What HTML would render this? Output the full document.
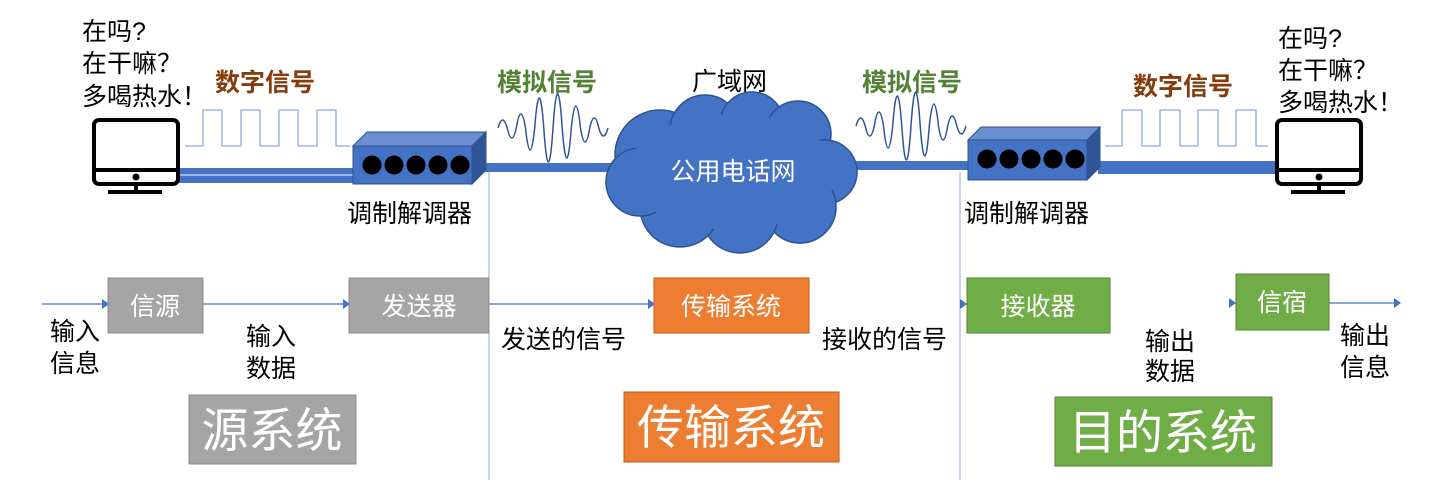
<!DOCTYPE html>
<html><head><meta charset="utf-8"><style>
html,body{margin:0;padding:0;background:#fff;}
svg{display:block;font-family:"Liberation Sans","Noto Sans CJK SC",sans-serif;}
</style></head><body>
<svg width="1442" height="480" viewBox="0 0 1442 480" xmlns="http://www.w3.org/2000/svg">
<defs>
<path id="aw" d="M0 128 Q4.6 112 9.2 128 Q13.8 148 18.3 128 Q22.9 100 27.5 128 Q32.1 172 36.7 128 Q41.3 68 45.8 128 Q50.4 196 55 128 Q59.6 60 64.2 128 Q68.8 188 73.3 128 Q77.9 84 82.5 128 Q87.1 156 91.7 128 Q96.3 108 100.8 128 Q105.4 144 110 128" fill="none" stroke="#2F5597" stroke-width="1.5"/>
</defs>
<line x1="489" y1="172" x2="489" y2="480" stroke="#8FAADC" stroke-width="1"/>
<line x1="960" y1="172" x2="960" y2="480" stroke="#8FAADC" stroke-width="1"/>

<g font-size="25" fill="#000">
<text x="82" y="40">在吗?</text>
<text x="82" y="72">在干嘛？</text>
<text x="82" y="105">多喝热水！</text>
<text x="1278" y="47">在吗?</text>
<text x="1278" y="79">在干嘛？</text>
<text x="1278" y="111">多喝热水！</text>
<text x="692" y="90">广域网</text>
<text x="347" y="222">调制解调器</text>
<text x="964" y="222">调制解调器</text>
</g>
<g font-size="25" font-weight="bold">
<text x="215" y="91" fill="#843C0C">数字信号</text>
<text x="1133" y="95" fill="#843C0C">数字信号</text>
<text x="497" y="91" fill="#548235">模拟信号</text>
<text x="862" y="91" fill="#548235">模拟信号</text>
</g>

<polyline points="185,146 203,146 203,110 222,110 222,146 241,146 241,110 260,110 260,146 279,146 279,110 298,110 298,146 317,146 317,110 336,110 336,146 350,146" fill="none" stroke="#8FAADC" stroke-width="1.3"/>
<polyline points="1105,146 1122,146 1122,110 1142,110 1142,146 1160,146 1160,110 1180,110 1180,146 1198,146 1198,110 1218,110 1218,146 1236,146 1236,110 1256,110 1256,146 1268,146" fill="none" stroke="#8FAADC" stroke-width="1.3"/>

<use href="#aw" x="498" y="0"/>
<use href="#aw" x="856" y="-2"/>

<rect x="178" y="168" width="176" height="15" fill="#4472C4"/>
<line x1="178" y1="175" x2="354" y2="175" stroke="#fff" stroke-width="1"/>
<rect x="484" y="163" width="130" height="9" fill="#4472C4"/>
<rect x="850" y="161" width="120" height="9" fill="#4472C4"/>
<rect x="1098" y="161" width="180" height="13" fill="#4472C4"/>

<g fill="#4472C4" stroke="#2F528F" stroke-width="1.5">
<circle cx="660" cy="155" r="45"/>
<circle cx="705" cy="130" r="35"/>
<circle cx="752" cy="124" r="32"/>
<circle cx="798" cy="134" r="33"/>
<circle cx="825" cy="172" r="32"/>
<circle cx="800" cy="207" r="36"/>
<circle cx="740" cy="215" r="38"/>
<circle cx="680" cy="207" r="40"/>
<circle cx="640" cy="182" r="34"/>
</g>
<ellipse cx="732" cy="172" rx="105" ry="58" fill="#4472C4"/>
<text x="733" y="180" font-size="25" fill="#fff" text-anchor="middle">公用电话网</text>

<polygon points="353,146 367,132 486,132 472,146" fill="#6A8FD0" stroke="#2F528F"/>
<polygon points="472,146 486,132 486,170 472,184" fill="#2F5597" stroke="#2F528F"/>
<rect x="353" y="146" width="119" height="38" fill="#4472C4" stroke="#2F528F"/>
<g fill="#000"><circle cx="372" cy="165" r="9.5"/><circle cx="394" cy="165" r="9.5"/><circle cx="416" cy="165" r="9.5"/><circle cx="438" cy="165" r="9.5"/><circle cx="460" cy="165" r="9.5"/></g>

<polygon points="968,140 981,127 1100,127 1087,140" fill="#6A8FD0" stroke="#2F528F"/>
<polygon points="1087,140 1100,127 1100,167 1087,180" fill="#2F5597" stroke="#2F528F"/>
<rect x="968" y="140" width="119" height="40" fill="#4472C4" stroke="#2F528F"/>
<g fill="#000"><circle cx="987" cy="159" r="9.5"/><circle cx="1009" cy="159" r="9.5"/><circle cx="1031" cy="159" r="9.5"/><circle cx="1053" cy="159" r="9.5"/><circle cx="1075" cy="159" r="9.5"/></g>

<g fill="none" stroke="#000" stroke-width="4">
<rect x="94" y="120" width="84" height="64" rx="5"/>
<line x1="94" y1="170" x2="178" y2="170"/>
<line x1="136" y1="184" x2="136" y2="191"/>
<line x1="108" y1="192" x2="162" y2="192"/>
<rect x="1277" y="120" width="84" height="64" rx="5"/>
<line x1="1277" y1="170" x2="1361" y2="170"/>
<line x1="1319" y1="184" x2="1319" y2="191"/>
<line x1="1291" y1="192" x2="1345" y2="192"/>
</g>
<circle cx="136" cy="177" r="3.5"/>
<circle cx="1319" cy="177" r="3.5"/>

<g stroke="#4472C4" stroke-width="1.2">
<line x1="42" y1="304" x2="103" y2="304"/>
<line x1="203" y1="304" x2="344" y2="304"/>
<line x1="489" y1="304" x2="649" y2="304"/>
<line x1="1329" y1="303" x2="1395" y2="303"/>
</g>
<g fill="#4472C4">
<polygon points="102,299 109,304 102,309"/>
<polygon points="343,299 350,304 343,309"/>
<polygon points="648,299 655,304 648,309"/>
<polygon points="960,299 967,304 960,309"/>
<polygon points="1229,298 1236,303 1229,308"/>
<polygon points="1394,298 1401,303 1394,308"/>
</g>

<rect x="108" y="278" width="95" height="55" fill="#A5A5A5" stroke="#8c8c8c"/>
<rect x="349" y="278" width="140" height="55" fill="#A5A5A5" stroke="#8c8c8c"/>
<rect x="654" y="278" width="155" height="55" fill="#ED7D31" stroke="#C55A11"/>
<rect x="967" y="278" width="143" height="55" fill="#70AD47" stroke="#548235"/>
<rect x="1236" y="274" width="93" height="56" fill="#70AD47" stroke="#548235"/>
<g font-size="25" fill="#fff" text-anchor="middle">
<text x="155" y="315">信源</text>
<text x="419" y="315">发送器</text>
<text x="731" y="315">传输系统</text>
<text x="1038" y="315">接收器</text>
<text x="1282" y="311">信宿</text>
</g>

<rect x="189" y="395" width="167" height="69" fill="#A5A5A5" stroke="#8c8c8c"/>
<rect x="624" y="392" width="215" height="70" fill="#ED7D31" stroke="#C55A11"/>
<rect x="1055" y="397" width="217" height="69" fill="#70AD47" stroke="#548235"/>
<g font-size="47" fill="#fff" text-anchor="middle">
<text x="272" y="447">源系统</text>
<text x="731" y="444">传输系统</text>
<text x="1163" y="449">目的系统</text>
</g>

<g font-size="25" fill="#000">
<text x="50" y="340">输入</text>
<text x="50" y="372">信息</text>
<text x="246" y="345">输入</text>
<text x="246" y="377">数据</text>
<text x="501" y="348">发送的信号</text>
<text x="822" y="348">接收的信号</text>
<text x="1145" y="350">输出</text>
<text x="1145" y="380">数据</text>
<text x="1340" y="344">输出</text>
<text x="1340" y="376">信息</text>
</g>
</svg>
</body></html>
